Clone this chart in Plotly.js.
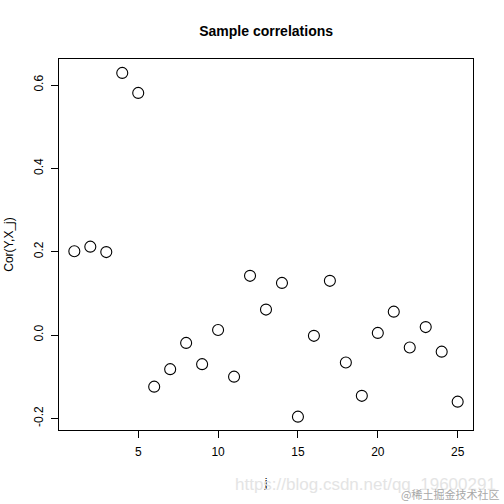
<!DOCTYPE html>
<html>
<head>
<meta charset="utf-8">
<script src="https://cdn.plot.ly/plotly-3.0.1.min.js"></script>
<style>html,body{margin:0;padding:0;background:#fff;}#chart{width:504px;height:504px;}</style>
</head>
<body>
<div id="chart"></div>
<script>
var jIndex = [1,2,3,4,5,6,7,8,9,10,11,12,13,14,15,16,17,18,19,20,21,22,23,24,25];
var corrValues = [0.201,0.212,0.199,0.629,0.581,-0.124,-0.082,-0.019,-0.070,0.012,-0.100,0.142,0.061,0.125,-0.196,-0.002,0.130,-0.066,-0.146,0.005,0.056,-0.030,0.019,-0.040,-0.160];
var xTickVals = [5,10,15,20,25];
var xTickText = ["5","10","15","20","25"];
var yTickVals = [-0.2,0.0,0.2,0.4,0.6];
var yTickText = ["-0.2","0.0","0.2","0.4","0.6"];

var font = "Liberation Sans, Arial, sans-serif";

var trace = {
  x: jIndex, y: corrValues, type: 'scatter', mode: 'markers',
  marker: {symbol: 'circle-open', size: 11, color: '#000', line: {width: 1.1, color: '#000'}},
  cliponaxis: false, hoverinfo: 'skip'
};

var layout = {
  width: 504, height: 504,
  margin: {l: 59, r: 31, t: 59, b: 74, pad: 0},
  paper_bgcolor: '#fff', plot_bgcolor: '#fff',
  showlegend: false,
  font: {family: font, size: 12, color: '#000'},
  title: {text: '<b>Sample correlations</b>', font: {family: font, size: 14, color: '#000'}, x: 0.528, xanchor: 'center', y: 1 - 31/504, yanchor: 'middle'},
  xaxis: {
    range: [0.04, 25.96], showgrid: false, zeroline: false,
    showline: true, mirror: true, linecolor: '#000', linewidth: 1,
    ticks: 'outside', ticklen: 7, tickwidth: 1, tickcolor: '#000',
    ticklabelstandoff: 4,
    tickvals: xTickVals, ticktext: xTickText, tickfont: {family: font, size: 12, color: '#000'},
    title: {text: 'j', font: {family: font, size: 12, color: '#000'}, standoff: 20}
  },
  yaxis: {
    range: [-0.228, 0.6624], showgrid: false, zeroline: false,
    showline: true, mirror: true, linecolor: '#000', linewidth: 1,
    ticks: 'outside', ticklen: 7, tickwidth: 1, tickcolor: '#000',
    ticklabelstandoff: 3,
    tickvals: yTickVals, ticktext: yTickText, tickangle: -90,
    tickfont: {family: font, size: 12, color: '#000'},
    title: {text: 'Cor(Y,X_j)', font: {family: font, size: 12, color: '#000'}, standoff: 16}
  },
  annotations: [
    {text: 'https://blog.csdn.net/qq_19600291', xref: 'paper', yref: 'paper', x: 1, y: 0, showarrow: false,
     xanchor: 'right', yanchor: 'middle', font: {family: font, size: 17, color: '#e4e4e4'}},
    {text: '@稀土掘金技术社区', xref: 'paper', yref: 'paper', x: 1, y: 0, showarrow: false,
     xanchor: 'right', yanchor: 'middle', font: {family: 'Noto Sans CJK SC, sans-serif', size: 11, color: '#a8a8a8'}}
  ]
};

// watermark positions in paper coordinates (from pixel positions)
var plotW = 504 - 59 - 31, plotH = 504 - 59 - 74;
layout.annotations[0].x = (498 - 59) / plotW;
layout.annotations[0].y = (504 - 74 - 484) / plotH;
layout.annotations[1].x = (501 - 59) / plotW;
layout.annotations[1].y = (504 - 74 - 494) / plotH;

Plotly.newPlot('chart', [trace], layout, {staticPlot: true, displayModeBar: false});
</script>
</body>
</html>
